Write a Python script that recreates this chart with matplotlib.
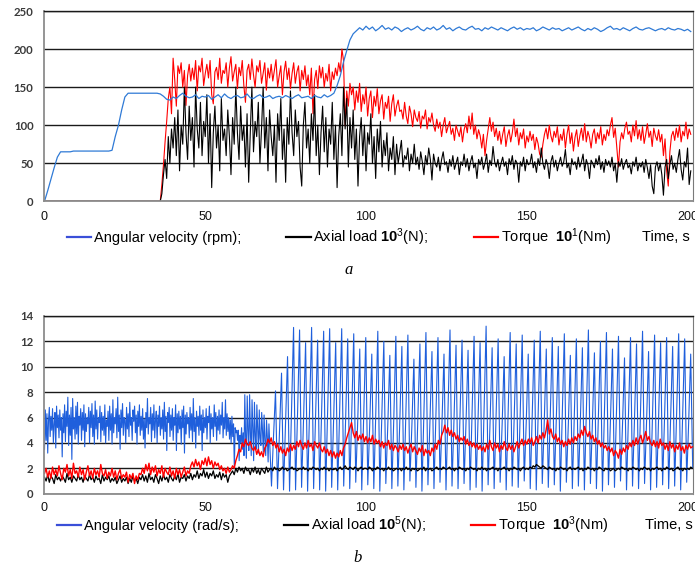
import numpy as np
import matplotlib
matplotlib.use("Agg")
import matplotlib.pyplot as plt
from matplotlib.lines import Line2D

plt.rcParams['mathtext.fontset'] = 'custom'
plt.rcParams['mathtext.rm'] = 'Liberation Sans'
plt.rcParams['mathtext.bf'] = 'Liberation Sans:bold'
plt.rcParams['mathtext.it'] = 'Liberation Sans:italic'

# ---------------- Panel a data ----------------
a_vel = [0, 14, 29, 44, 58, 65,
         65, 65, 65, 66, 66, 66, 66, 66, 66, 66, 66, 66, 66, 66, 66,
         67, 85, 100, 120, 137, 142,
         142, 142, 142, 142, 142, 142, 142, 142, 142,
         141, 138, 134, 133, 137, 135, 139, 142, 138, 136, 137, 140, 135, 138, 137, 139, 134, 137,
         140, 136, 141, 137, 135, 138, 139, 136, 137, 141, 136, 135, 138, 140, 136, 137, 139, 135,
         137, 138, 136, 139, 137, 135, 138, 140, 136, 137, 138, 135, 139, 137, 136, 140, 137, 139,
         142, 152, 165, 183, 198, 212, 220, 224,
         228, 225, 230, 226, 229, 224, 227, 231, 226, 228, 225, 229, 227, 223, 226, 228, 225, 227,
         230, 226, 224, 228, 226, 229, 225, 227, 231, 226, 228, 224, 227, 229, 226, 225, 228, 230,
         226, 227, 224, 228, 226, 229, 227, 225, 228, 226, 224, 227, 229, 226, 228, 225, 227, 226,
         228, 224, 226, 229, 227, 225, 228, 226, 227, 224, 226, 228, 225, 227, 229, 226, 224, 227,
         225, 228, 226, 223, 225, 228, 230, 226, 227, 225, 228, 226, 224, 227, 229, 226, 225, 227,
         228, 226, 224, 226, 227, 225, 228, 226, 225, 227, 226, 224, 226, 223]

a_torque = [0, 22, 48, 78, 105, 135, 150, 115, 188, 160,
            125, 178, 168, 182, 150, 172, 126, 165, 180, 158,
            175, 160, 185, 145, 178, 170, 188, 152, 168, 180,
            162, 185, 140, 128, 170, 176, 160, 188, 155, 172,
            168, 182, 150, 175, 190, 158, 170, 180, 148, 176,
            165, 185, 152, 130, 172, 180, 160, 187, 166, 150,
            178, 170, 185, 155, 168, 182, 146, 175, 162, 180,
            158, 172, 186, 150, 165, 178, 140, 170, 184, 160,
            175, 148, 168, 182, 155, 170, 178, 145, 172, 160,
            178, 152, 166, 140, 175, 115, 160, 172, 148, 178,
            162, 176, 150, 168, 158, 180, 145, 170, 160, 175,
            165, 182, 170, 200, 185, 100, 145, 125, 155, 140,
            150, 120, 145, 130, 155, 118, 140, 128, 150, 112,
            135, 145, 110, 138, 125, 148, 115, 132, 140, 108,
            130, 122, 138, 105, 128, 140, 112, 125, 133, 118,
            120, 108, 130, 112, 102, 125, 115, 98, 120, 110,
            105, 118, 96, 112, 108, 120, 95, 110, 104, 116,
            100, 92, 108, 96, 104, 85, 100, 110, 90, 98,
            105, 88, 96, 80, 100, 92, 85, 98, 78, 94,
            102, 90, 112, 95, 116, 88, 100, 82, 94, 86,
            70, 88, 60, 80, 95, 110, 92, 104, 85, 96,
            80, 92, 75, 88, 98, 72, 86, 94, 78, 90,
            108, 85, 96, 74, 90, 82, 95, 70, 86, 78,
            92, 80, 88, 68, 84, 76, 62, 58, 75, 88,
            96, 82, 100, 86, 78, 92, 84, 98, 74, 88,
            80, 95, 70, 88, 100, 76, 90, 66, 84, 94,
            72, 86, 96, 80, 102, 78, 92, 84, 70, 88,
            95, 76, 90, 82, 98, 74, 88, 80, 94, 86,
            100, 110, 84, 96, 70, 45, 78, 90, 82, 96,
            104, 88, 92, 78, 100, 86, 106, 82, 94, 80,
            98, 76, 88, 102, 84, 92, 72, 96, 86, 80,
            94, 78, 88, 60, 82, 40, 20, 65, 86, 92,
            80, 96, 84, 100, 78, 92, 86, 104, 82, 95,
            88]

a_load = [0, 10, 35, 55, 30, 85, 50, 95, 70, 110,
          60, 120, 40, 100, 75, 150, 90, 55, 125, 80,
          110, 45, 150, 95, 70, 130, 60, 105, 85, 140,
          50, 115, 18, 90, 125, 70, 100, 40, 135, 80,
          95, 60, 120, 85, 35, 110, 75, 150, 90, 55,
          125, 80, 100, 45, 115, 25, 90, 150, 65, 105,
          85, 130, 50, 95, 150, 70, 110, 40, 120, 85,
          60, 100, 25, 115, 80, 135, 55, 95, 25, 110,
          75, 145, 90, 60, 120, 85, 105, 45, 20, 100,
          130, 70, 95, 50, 115, 80, 140, 60, 100, 35,
          90, 125, 65, 110, 45, 95, 75, 130, 55, 100,
          18, 85, 115, 60, 150, 95, 135, 45, 110, 70,
          120, 55, 95, 20, 85, 110, 60, 100, 40, 90,
          75, 115, 50, 85, 30, 95, 65, 105, 45, 80,
          60, 90, 40, 70, 55, 85, 35, 75, 50, 65,
          80, 45, 60, 55, 70, 40, 62, 50, 75, 48,
          58, 42, 65, 52, 35, 60, 48, 70, 55, 28,
          62, 50, 45, 58, 40, 55, 65, 48, 52, 38,
          55, 46, 60, 42, 50, 58, 35, 52, 47, 62,
          45, 56, 40, 52, 60, 44, 50, 30, 55, 48,
          58, 42, 50, 62, 38, 54, 47, 72, 52, 45,
          55, 40, 50, 58, 46, 52, 35, 56, 48, 60,
          42, 54, 50, 25, 52, 46, 58, 40, 55, 48,
          50, 62, 44, 52, 38, 56, 47, 70, 50, 42,
          55, 48, 30, 52, 60, 45, 54, 40, 50, 58,
          46, 52, 68, 44, 50, 35, 56, 48, 52, 42,
          58, 45, 52, 62, 40, 55, 48, 30, 54, 50,
          44, 56, 48, 60, 42, 52, 38, 55, 47, 53,
          45, 58, 40, 50, 25, 52, 46, 56, 42, 50,
          55, 44, 48, 36, 52, 46, 58, 40, 50, 45,
          52, 38, 55, 44, 30, 48, 20, 10, 45, 52,
          40, 50, 35, 8, 45, 55, 30, 48, 60, 42,
          50, 38, 55, 68, 42, 28, 52, 45, 70, 22,
          40]

# time ranges (s) over which the sampled values above are spread
a_vel_span = (0, 201)
a_load_span = (36, 201)      # before 36 s both load and torque are zero
a_zero_start = 0

# ---------------- Panel b data ----------------
b_vel_noise = [3.5, 6.6, 4.2, 6.3, 3.2, 5.8, 6.8, 4.5, 6.1, 5.0, 6.7, 4.0, 5.5, 6.4, 3.6, 6.9, 5.2, 6.2, 4.4, 6.6,
               5.0, 6.0, 2.9, 6.3, 4.8, 7.0, 4.1, 6.5, 5.3, 7.6, 3.8, 6.2, 4.6, 6.8, 2.7, 7.5, 5.1, 6.0, 4.3, 6.9,
               4.7, 7.2, 3.9, 6.1, 5.4, 6.7, 4.2, 6.4, 5.0, 7.0, 3.7, 6.3, 4.9, 6.0, 5.5, 6.8, 4.0, 6.5, 5.2, 7.1,
               4.5, 6.2, 3.9, 7.3, 5.1, 6.6, 4.3, 6.0, 5.6, 6.9, 4.1, 6.4, 5.0, 6.1, 4.6, 7.0, 4.0, 5.8, 5.3, 6.5,
               4.2, 6.9, 5.0, 6.3, 3.9, 7.4, 4.8, 6.0, 5.5, 6.7, 4.4, 7.6, 4.9, 6.2, 3.5, 6.6, 5.2, 7.1, 4.6, 6.0,
               5.8, 4.0, 6.8, 5.1, 6.3, 4.5, 7.2, 5.4, 6.0, 4.2, 6.6, 5.7, 6.9, 4.8, 6.2, 3.9, 6.5, 5.3, 7.0, 4.6,
               6.1, 5.0, 6.7, 4.3, 5.9, 3.6, 6.4, 5.2, 7.5, 4.7, 6.0, 5.5, 6.8, 4.1, 6.3, 5.0, 7.0, 4.4, 5.8, 6.5,
               4.0, 6.2, 5.3, 6.9, 4.6, 6.0, 5.1, 6.6, 4.3, 7.2, 4.9, 6.1, 3.4, 6.4, 5.6, 6.8, 4.5, 6.2, 5.0, 6.7,
               4.2, 6.0, 5.4, 7.0, 3.4, 6.3, 4.8, 6.5, 5.1, 6.1, 3.9, 6.6, 5.2, 6.9, 3.2, 6.2, 4.7, 6.4, 5.5, 6.0,
               4.4, 6.8, 5.0, 6.3, 4.1, 7.5, 4.9, 6.0, 3.6, 6.5, 5.3, 6.1, 4.6, 6.9, 5.0, 6.2, 3.4, 6.6, 4.8, 6.0,
               5.2, 6.7, 4.3, 6.1, 5.6, 6.9, 4.0, 6.3, 5.1, 6.0, 4.5, 7.0, 5.3, 6.4, 4.2, 6.1, 5.0, 6.6, 4.7, 6.2,
               5.4, 7.2, 4.4, 6.0, 5.1, 7.4, 4.6, 6.3, 4.9, 6.0, 4.3, 5.8, 4.0, 6.1, 4.5, 5.5, 2.0, 5.2, 4.8, 5.0,
               4.2, 5.0, 2.6, 4.6, 4.0, 5.2, 3.5, 4.8,
               3.0, 7.8, 4.5, 2.8, 7.7, 5.0, 3.4, 7.8, 4.8, 3.0, 7.4, 5.2, 2.6, 7.2, 4.6, 3.5, 7.0,
               5.1, 3.2, 6.6, 4.4, 3.8, 6.4, 5.0, 3.3, 6.2, 4.2, 3.0, 5.8, 4.5, 2.5, 5.5, 3.9, 2.2]
b_vel_noise_span = (0, 70.3)

# oscillating regime: trough, mid-rise, peak for each cycle
b_vel_osc = [0.6, 4.5, 8.1, 0.4, 5.0, 9.5, 0.3, 5.6, 10.8, 0.2, 6.5, 13.1, 0.3, 6.4, 12.9,
             0.5, 6.0, 11.9, 0.2, 6.6, 13.1, 0.4, 6.2, 12.1, 0.3, 6.4, 12.8, 0.2, 6.5, 13.0,
             0.5, 6.0, 11.9, 0.3, 6.5, 13.0, 0.6, 6.1, 12.2, 0.4, 6.3, 12.6, 0.9, 5.8, 11.4,
             0.3, 6.2, 12.3, 0.7, 5.6, 11.0, 0.4, 6.4, 12.8, 0.2, 6.0, 12.0, 0.8, 5.5, 10.9,
             0.4, 6.1, 12.4, 0.6, 5.9, 11.6, 0.3, 6.3, 12.5, 1.0, 5.4, 10.6, 0.5, 6.0, 11.8,
             0.2, 6.4, 12.7, 0.7, 5.7, 11.2, 0.4, 6.2, 12.3, 0.9, 5.6, 11.0, 0.3, 6.5, 12.9,
             0.6, 5.9, 11.7, 0.4, 6.1, 12.1, 0.8, 5.7, 11.3, 0.3, 6.3, 12.4, 0.5, 6.0, 11.9,
             0.2, 6.6, 13.2, 0.7, 5.8, 11.5, 0.4, 6.2, 12.2, 0.9, 5.5, 10.8, 0.3, 6.4, 12.7,
             0.6, 6.0, 11.8, 0.5, 6.3, 12.5, 1.0, 5.6, 11.0, 0.4, 6.1, 12.1, 0.3, 6.5, 12.8,
             0.8, 5.7, 11.4, 0.5, 6.2, 12.3, 0.7, 5.9, 11.6, 0.2, 6.4, 12.6, 0.9, 5.5, 10.9,
             0.4, 6.2, 12.2, 0.6, 5.8, 11.5, 0.3, 6.5, 12.9, 0.8, 5.6, 11.1, 0.4, 6.1, 12.0,
             0.2, 6.4, 12.7, 0.7, 5.8, 11.4, 0.5, 6.3, 12.4, 1.0, 5.4, 10.7, 0.3, 6.2, 12.3,
             0.6, 6.0, 11.8, 0.4, 6.5, 12.8, 0.8, 5.7, 11.2, 0.3, 6.3, 12.5, 0.5, 6.0, 11.9,
             0.7, 6.2, 12.3, 0.4, 5.9, 11.6, 0.6, 6.4, 12.6, 0.3, 6.1, 12.2, 0.9, 5.7, 11.0,
             2.0]
b_vel_osc_span = (70.6, 201.6)

b_torque = [1.6, 2.0, 1.3, 1.8, 1.2, 2.1, 1.5, 1.9, 1.4, 2.2,
            1.6, 1.1, 2.0, 1.7, 2.3, 1.4, 1.9, 1.2, 2.4, 1.6,
            1.8, 1.3, 2.1, 1.5, 1.9, 1.1, 1.7, 2.2, 1.4, 1.8,
            1.2, 2.0, 1.5, 1.8, 1.3, 2.3, 1.6, 1.4, 1.9, 1.2,
            1.7, 1.4, 2.0, 1.3, 1.8, 1.1, 1.6, 1.9, 1.2, 1.5,
            1.3, 1.7, 0.9, 1.5, 1.2, 1.6, 0.8, 1.4, 1.1, 1.6,
            1.5, 2.0, 1.6, 2.3, 1.8, 2.4, 1.5, 2.1, 1.7, 2.2,
            1.4, 1.9, 1.6, 2.2, 1.3, 2.0, 1.7, 1.5, 2.1, 1.4,
            1.8, 1.2, 2.0, 1.5, 1.9, 1.3, 1.7, 2.1, 1.4, 1.8,
            1.6, 2.2, 2.5, 2.1, 2.7, 2.2, 2.5, 1.9, 2.6, 2.3,
            2.8, 2.2, 2.9, 2.3, 2.6, 2.0, 2.5, 2.2, 2.4, 1.9,
            2.2, 1.8, 2.0, 1.6, 2.1, 1.7, 1.9, 2.2, 2.0, 2.6,
            3.0, 3.5, 3.3, 4.0, 3.7, 4.3, 3.9, 3.8, 4.1, 3.6,
            3.4, 3.7, 3.1, 3.5, 3.0, 3.3, 2.9, 3.6, 3.8, 4.3,
            4.0, 4.4, 3.8, 4.1, 3.6, 3.9, 3.3, 3.7, 3.2, 3.5,
            3.0, 3.6, 3.3, 3.9, 3.4, 3.8, 3.5, 4.1, 3.7, 4.2,
            3.8, 3.5, 4.0, 3.6, 4.2, 3.7, 3.9, 3.4, 4.1, 3.8,
            3.6, 4.0, 3.5, 3.3, 3.7, 3.2, 3.5, 3.0, 3.4, 2.9,
            3.3, 2.8, 3.2, 2.9, 3.4, 3.0, 3.6, 3.9, 4.4, 4.8,
            5.2, 5.6, 4.8, 4.4, 4.9, 4.2, 4.6, 4.3, 4.7, 4.1,
            4.5, 4.0, 4.4, 4.1, 4.6, 3.9, 4.3, 4.0, 4.2, 3.7,
            4.1, 3.6, 4.0, 3.8, 4.2, 3.5, 3.9, 3.4, 3.8, 3.6,
            3.3, 3.8, 3.5, 3.9, 3.4, 3.7, 3.2, 3.6, 3.9, 3.3,
            3.7, 3.4, 3.1, 3.6, 3.3, 3.8, 3.0, 3.5, 3.2, 3.4,
            3.0, 3.6, 3.3, 3.9, 3.5, 4.2, 3.9, 4.6, 4.9, 5.4,
            4.8, 5.2, 4.6, 5.0, 4.5, 4.8, 4.3, 4.6, 4.1, 4.4,
            4.2, 4.5, 3.9, 4.3, 3.8, 4.1, 3.7, 4.0, 3.6, 3.9,
            3.5, 3.8, 3.4, 3.7, 3.3, 3.9, 3.5, 4.2, 3.7, 3.4,
            4.0, 3.6, 3.9, 3.3, 3.8, 3.5, 4.1, 3.6, 3.4, 3.9,
            3.5, 3.8, 3.3, 3.7, 4.1, 3.6, 4.0, 4.3, 3.8, 4.2,
            3.9, 4.3, 4.0, 4.4, 3.8, 4.1, 4.5, 4.0, 4.6, 4.3,
            4.8, 4.4, 5.0, 5.8, 4.7, 5.1, 4.5, 4.3, 4.7, 4.1,
            4.4, 3.9, 4.2, 3.7, 4.1, 3.8, 4.3, 3.9, 4.4, 4.0,
            4.5, 4.2, 4.7, 4.4, 5.0, 4.6, 5.3, 4.8, 4.5, 4.9,
            4.3, 4.6, 4.1, 4.4, 3.9, 4.2, 3.7, 4.0, 3.6, 3.8,
            3.4, 3.7, 3.3, 3.6, 3.0, 3.4, 3.2, 2.8, 3.5, 3.1,
            3.6, 3.3, 3.8, 3.5, 4.0, 3.7, 4.2, 3.8, 4.4, 3.9,
            4.3, 4.6, 4.0, 4.4, 4.9, 4.2, 4.5, 4.0, 3.8, 4.2,
            3.7, 4.1, 3.6, 4.3, 3.8, 4.0, 3.5, 3.9, 3.4, 4.1,
            3.6, 3.9, 3.3, 3.8, 3.5, 4.0, 3.4, 3.7, 3.2, 3.8,
            3.5, 3.9, 3.6, 3.7]

b_load = [1.3, 1.0, 1.5, 0.9, 1.4, 1.2, 0.8, 1.5, 1.1, 1.3,
          1.0, 1.4, 1.2, 0.9, 1.6, 1.1, 1.3, 0.9, 1.4, 1.2,
          1.0, 1.5, 1.1, 1.3, 0.9, 1.4, 1.2, 1.0, 1.5, 1.1,
          1.3, 0.9, 1.4, 1.1, 1.2, 0.8, 1.5, 1.0, 1.3, 1.1,
          1.4, 0.9, 1.2, 1.0, 1.3, 0.8, 1.1, 1.4, 0.9, 1.2,
          1.0, 1.3, 0.8, 1.2, 0.9, 1.4, 1.0, 1.2, 0.8, 1.3,
          1.1, 1.5, 1.0, 1.4, 0.9, 1.6, 1.1, 1.3, 0.9, 1.5,
          1.2, 0.8, 1.4, 1.0, 1.5, 1.1, 1.3, 0.9, 1.5, 1.2,
          1.0, 1.4, 1.1, 1.6, 0.9, 1.3, 1.2, 1.5, 1.0, 1.4,
          1.2, 1.6, 1.1, 1.5, 1.3, 1.8, 1.2, 1.6, 1.4, 1.9,
          1.3, 1.7, 1.2, 1.6, 1.4, 1.8, 1.2, 1.5, 1.3, 1.7,
          1.1, 1.6, 1.3, 1.5, 0.9, 1.4, 1.6, 1.8, 1.5, 2.0,
          1.7, 2.1, 1.8, 2.0, 1.6, 2.1, 1.8, 1.9, 1.5, 2.0,
          1.7, 2.1, 1.6, 1.9, 1.5, 2.0, 1.8, 1.6, 2.1, 1.7,
          1.9, 2.0, 1.8, 2.1, 1.9, 2.0, 1.8, 1.9, 2.1, 1.9,
          2.0, 1.8, 1.9, 2.0, 2.1, 1.9, 2.0, 1.8, 1.9, 2.0,
          1.9, 2.1, 1.9, 2.0, 1.8, 2.0, 1.9, 2.1, 2.0, 1.9,
          2.0, 1.8, 2.0, 1.9, 2.1, 1.9, 2.0, 1.8, 2.0, 1.9,
          1.9, 2.0, 1.8, 2.0, 2.1, 1.9, 2.0, 2.2, 2.0, 1.9,
          2.1, 2.0, 1.9, 2.1, 2.0, 1.8, 2.0, 2.1, 1.9, 2.0,
          2.0, 1.9, 2.1, 2.0, 1.8, 2.0, 1.9, 2.1, 2.0, 1.9,
          2.0, 1.8, 2.0, 1.9, 2.1, 1.9, 2.0, 1.8, 1.9, 2.0,
          1.9, 2.0, 1.8, 2.0, 1.9, 2.1, 1.9, 2.0, 1.8, 2.0,
          1.9, 2.0, 1.8, 1.9, 2.0, 1.9, 2.1, 1.8, 2.0, 1.9,
          2.0, 1.8, 1.9, 2.0, 2.1, 1.9, 2.0, 1.9, 2.1, 2.0,
          1.9, 2.0, 2.1, 1.9, 2.0, 1.8, 2.0, 1.9, 2.1, 2.0,
          1.9, 2.0, 1.8, 2.0, 1.9, 2.1, 2.0, 1.9, 2.0, 1.8,
          2.0, 1.9, 2.1, 1.9, 2.0, 1.8, 2.0, 1.9, 2.0, 2.1,
          1.9, 2.0, 1.8, 2.0, 1.9, 2.0, 2.1, 1.9, 2.0, 1.8,
          2.0, 1.9, 2.1, 2.0, 1.9, 2.0, 1.8, 2.0, 2.1, 1.9,
          2.0, 1.9, 2.1, 2.0, 2.2, 2.1, 2.3, 2.2, 2.1, 2.0,
          2.2, 2.1, 2.0, 1.9, 2.1, 2.0, 1.9, 2.0, 1.8, 2.0,
          1.9, 2.1, 2.0, 1.9, 2.0, 1.8, 2.0, 2.1, 1.9, 2.0,
          1.9, 2.0, 2.1, 1.9, 2.0, 1.8, 2.0, 1.9, 2.1, 2.0,
          1.9, 2.0, 1.8, 2.0, 1.9, 2.1, 2.0, 1.9, 1.8, 2.0,
          1.9, 2.0, 1.8, 1.9, 2.0, 1.8, 1.9, 2.0, 1.9, 2.1,
          2.0, 1.9, 2.0, 1.8, 2.0, 1.9, 2.1, 2.0, 1.9, 2.0,
          1.8, 2.0, 1.9, 2.1, 2.0, 1.9, 2.0, 1.8, 2.0, 1.9,
          2.0, 2.1, 1.9, 2.0, 1.8, 2.0, 1.9, 2.1, 2.0, 1.9,
          2.0, 1.8, 1.9, 2.0, 2.1, 1.9, 2.0, 1.8, 2.0, 1.9,
          2.0, 1.9, 2.1, 2.0]
b_span = (0, 201.5)

# ---------------- labels ----------------
a_labels = ['Angular velocity (rpm);', r'Axial load $\mathbf{10}^{3}$(N);', r'Torque  $\mathbf{10}^{1}$(Nm)']
b_labels = ['Angular velocity (rad/s);', r'Axial load $\mathbf{10}^{5}$(N);', r'Torque  $\mathbf{10}^{3}$(Nm)']
x_ticks = [0, 50, 100, 150, 200]
a_yticks = [0, 50, 100, 150, 200, 250]
b_yticks = [0, 2, 4, 6, 8, 10, 12, 14]

C_BLUE_A = '#2f7ad6'
C_BLUE_B = '#1f5fdc'
C_LEG_BLUE = '#3a4fd8'
C_RED = '#ff0000'
C_BLACK = '#000000'

W, H = 695, 571
fig = plt.figure(figsize=(W / 100, H / 100), dpi=100)


def px_axes(left, top, right, bottom):
    return fig.add_axes([left / W, 1 - bottom / H, (right - left) / W, (bottom - top) / H])


def style(ax, yticks, xlabelpad):
    ax.set_xlim(0, 201.6)
    ax.set_ylim(yticks[0], yticks[-1])
    ax.set_yticks(yticks)
    ax.set_xticks(x_ticks)
    ax.grid(axis='y', color='#1a1a1a', lw=1.0)
    ax.set_axisbelow(True)
    for s in ['left', 'bottom']:
        ax.spines[s].set_color('#8c8c8c')
        ax.spines[s].set_linewidth(1.3)
    ax.spines['right'].set_color('#7a7a7a')
    ax.spines['right'].set_linewidth(0.8)
    ax.spines['top'].set_color('#1a1a1a')
    ax.spines['top'].set_linewidth(1.0)
    ax.tick_params(length=0)
    ax.tick_params(axis='y', pad=8.0)
    ax.tick_params(axis='x', pad=xlabelpad)
    for lab in ax.get_yticklabels():
        lab.set_fontfamily('Lato')
        lab.set_fontweight('bold')
        lab.set_fontsize(8.2)
        lab.set_color('#3a3a3a')
    for lab in ax.get_xticklabels():
        lab.set_fontfamily('Liberation Sans')
        lab.set_fontsize(9)
        lab.set_color('#111111')


# ---------- panel a ----------
ax1 = px_axes(44.5, 11, 692.7, 201.3)
t_vel = np.linspace(*a_vel_span, len(a_vel))
t_load = np.concatenate([[a_zero_start], np.linspace(*a_load_span, len(a_load))])
ax1.plot(t_load, np.concatenate([[0], a_torque]), color=C_RED, lw=0.8)
ax1.plot(t_load, np.concatenate([[0], a_load]), color=C_BLACK, lw=0.8)
ax1.plot(t_vel, a_vel, color=C_BLUE_A, lw=0.9)
style(ax1, a_yticks, 7)

# ---------- panel b ----------
ax2 = px_axes(44.5, 316, 692.7, 493.7)
t_bn = np.linspace(*b_vel_noise_span, len(b_vel_noise))
t_bo = np.linspace(*b_vel_osc_span, len(b_vel_osc))
ax2.plot(np.concatenate([t_bn, t_bo]), np.concatenate([b_vel_noise, b_vel_osc]), color=C_BLUE_B, lw=0.8)
t_b = np.linspace(*b_span, len(b_load))
ax2.plot(t_b, b_load, color=C_BLACK, lw=0.9)
t_bt = np.linspace(*b_span, len(b_torque))
ax2.plot(t_bt, b_torque, color=C_RED, lw=1.0)
style(ax2, b_yticks, 6)

# ---------- legends ----------
def make_legend(labels, x_px, y_px):
    handles = [Line2D([], [], color=C_LEG_BLUE, lw=1.6),
               Line2D([], [], color=C_BLACK, lw=1.6),
               Line2D([], [], color=C_RED, lw=1.6)]
    fig.legend(handles, labels, loc='center left', bbox_to_anchor=(x_px / W, 1 - y_px / H),
               ncol=3, frameon=False, borderpad=0, borderaxespad=0,
               handlelength=1.65, handletextpad=0.2, columnspacing=3.1,
               prop={'family': 'Liberation Sans', 'size': 10.5})

make_legend(a_labels, 67, 237)
make_legend(b_labels, 57, 525)
fig.text(642 / W, 1 - 237 / H, 'Time, s', family='Liberation Sans', size=10.5, va='center', ha='left')
fig.text(645 / W, 1 - 525 / H, 'Time, s', family='Liberation Sans', size=10.5, va='center', ha='left')

fig.text(349 / W, 1 - 270 / H, 'a', family='Liberation Serif', style='italic', size=12, ha='center', va='center')
fig.text(358 / W, 1 - 558 / H, 'b', family='Liberation Serif', style='italic', size=12, ha='center', va='center')

fig.savefig('out.png', dpi=100)
